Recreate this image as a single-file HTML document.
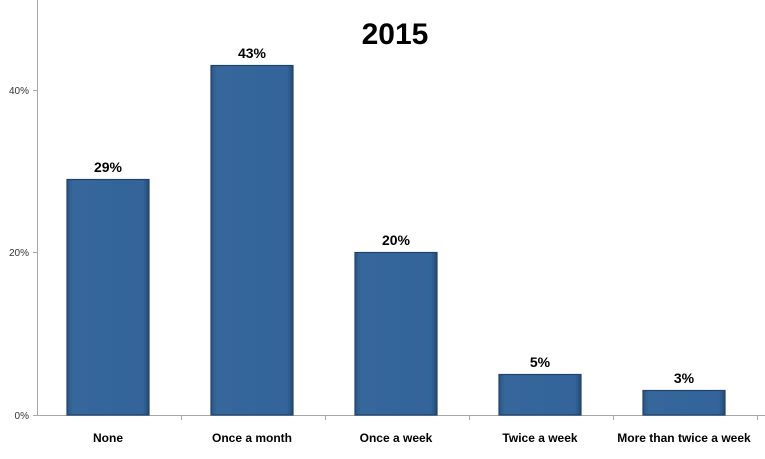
<!DOCTYPE html>
<html><head><style>
body{margin:0;background:#fff;width:765px;height:454px;overflow:hidden;font-family:"Liberation Sans",Arial,sans-serif}
</style></head><body>
<svg width="765" height="454" xmlns="http://www.w3.org/2000/svg" font-family="Liberation Sans, Arial, sans-serif">
<defs>
<linearGradient id="g" x1="0" x2="1" y1="0" y2="0">
<stop offset="0" stop-color="#2a5685"/><stop offset="0.07" stop-color="#36679b"/><stop offset="0.93" stop-color="#33649a"/><stop offset="1" stop-color="#264b73"/>
</linearGradient>
</defs>
<text x="395" y="44" font-size="30" font-weight="bold" text-anchor="middle" fill="#000">2015</text>
<line x1="37.5" y1="0" x2="37.5" y2="415" stroke="#a8a8a8" stroke-width="1"/>
<line x1="37" y1="415.5" x2="765" y2="415.5" stroke="#a8a8a8" stroke-width="1"/>
<g stroke="#a8a8a8"><line x1="33" y1="90.5" x2="37" y2="90.5"/><line x1="33" y1="252.5" x2="37" y2="252.5"/><line x1="33" y1="415.5" x2="37" y2="415.5"/>
<line x1="181.5" y1="415" x2="181.5" y2="420"/><line x1="325.5" y1="415" x2="325.5" y2="420"/><line x1="469.5" y1="415" x2="469.5" y2="420"/><line x1="613.5" y1="415" x2="613.5" y2="420"/><line x1="757.5" y1="415" x2="757.5" y2="420"/></g>
<g font-size="10" fill="#333" text-anchor="end">
<text x="29" y="94">40%</text><text x="29" y="256">20%</text><text x="29" y="419">0%</text>
</g>
<g stroke="#1f4268" stroke-width="1.2" fill="url(#g)">
<rect x="67" y="179.5" width="82" height="235.5"/>
<rect x="211" y="65.5" width="82" height="349.5"/>
<rect x="355" y="252.5" width="82" height="162.5"/>
<rect x="499" y="374.5" width="82" height="40.5"/>
<rect x="643" y="390.5" width="82" height="24.5"/>
</g>
<g font-size="14" font-weight="bold" text-anchor="middle" fill="#000">
<text x="108" y="172">29%</text><text x="252" y="58">43%</text><text x="396" y="245">20%</text><text x="540" y="367">5%</text><text x="684" y="383">3%</text>
</g>
<g font-size="12" font-weight="bold" text-anchor="middle" fill="#000">
<text x="108" y="442">None</text><text x="252" y="442">Once a month</text><text x="396" y="442">Once a week</text><text x="540" y="442">Twice a week</text><text x="684" y="442">More than twice a week</text>
</g>
</svg>
</body></html>
